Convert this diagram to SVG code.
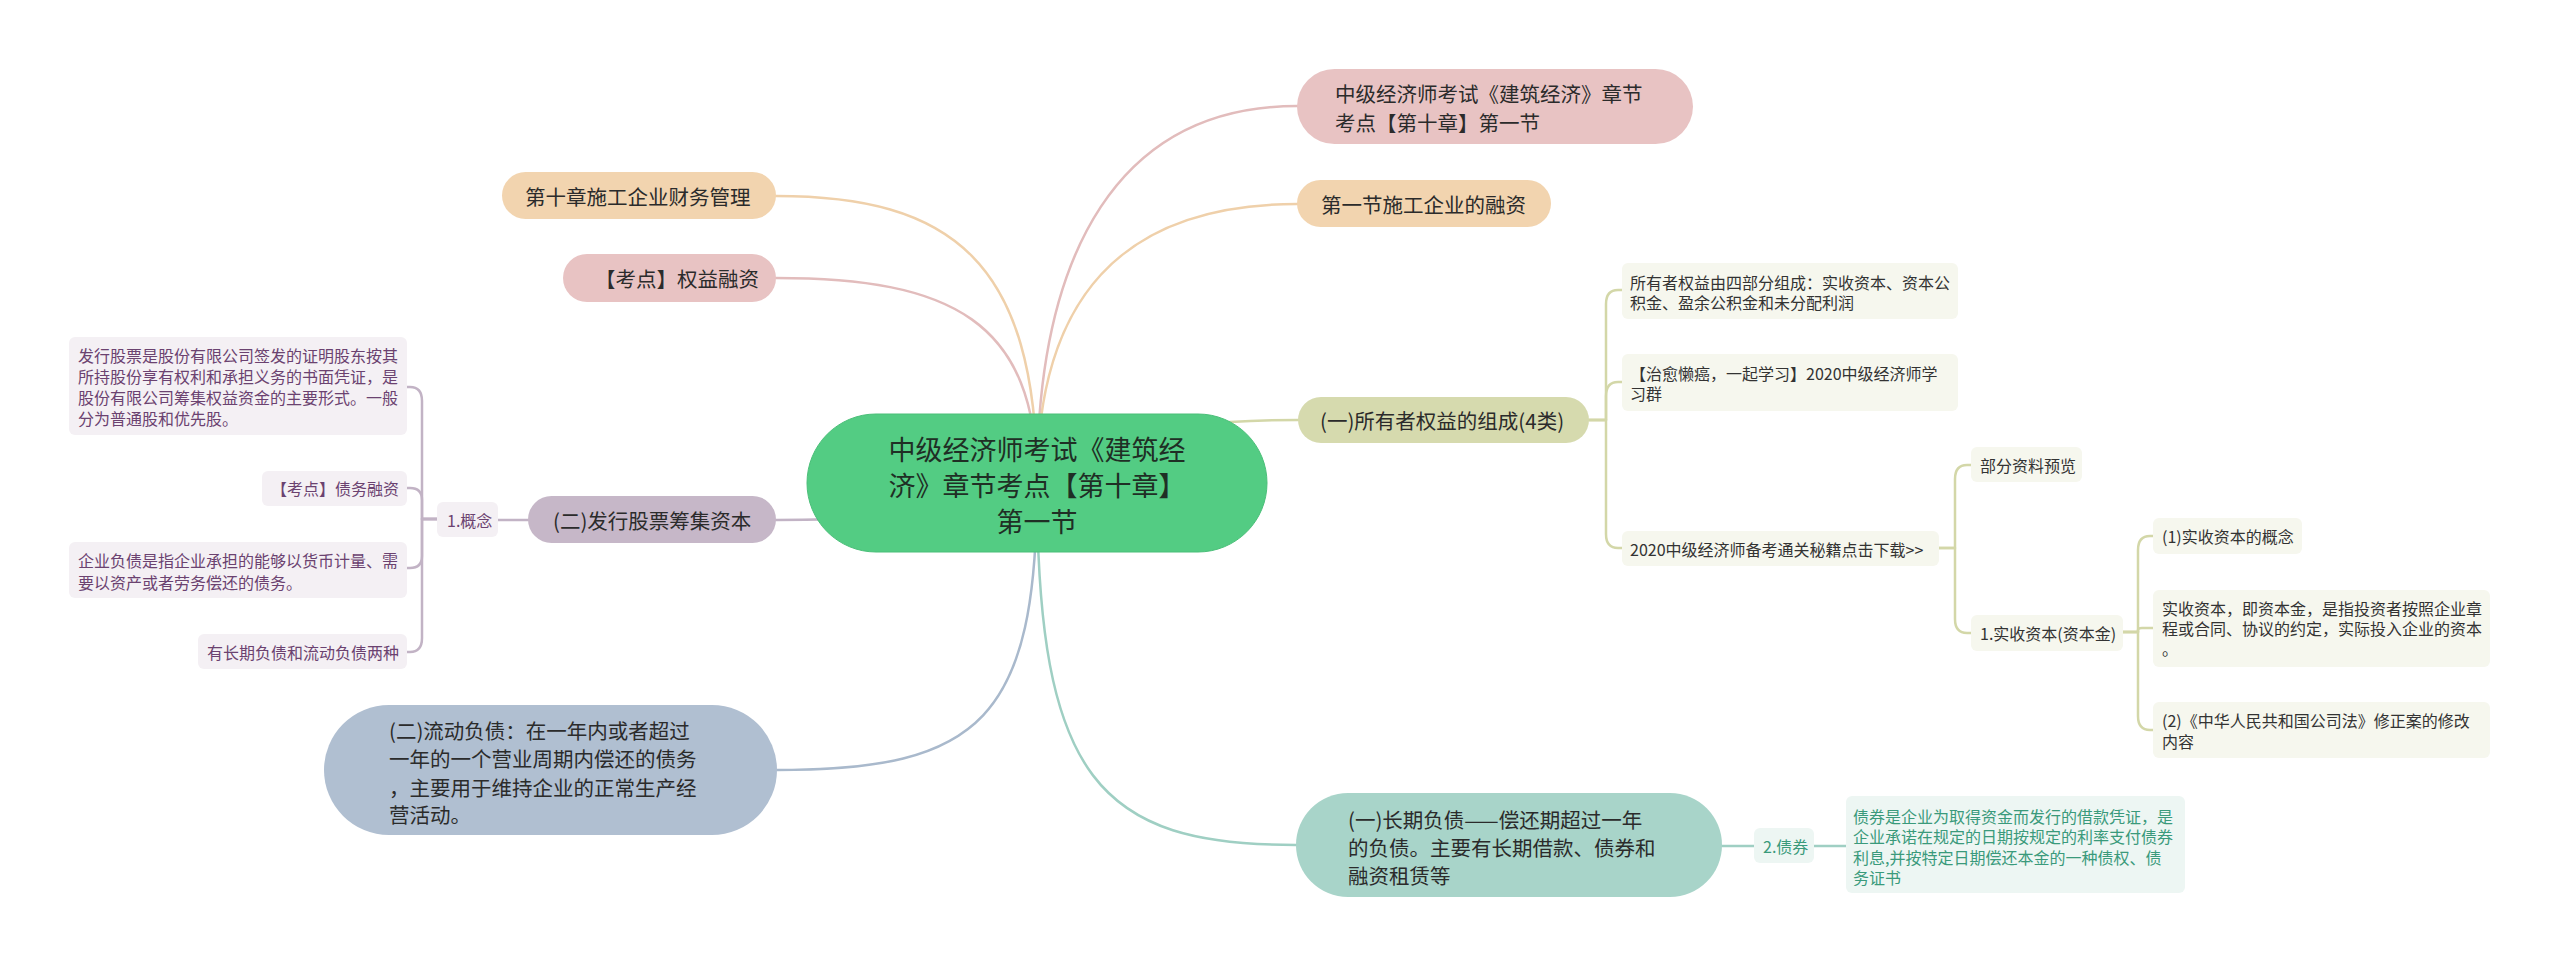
<svg xmlns="http://www.w3.org/2000/svg" width="2560" height="966" viewBox="0 0 2560 966">
<style>
text{font-family:"Noto Sans CJK SC","Noto Sans",sans-serif;dominant-baseline:central}
.root{font-size:27px;fill:#1f2f25;text-anchor:middle}
.main{font-size:20.5px;fill:#2b2b2b}
.sm{font-size:16px}
.pu{fill:#6b4270}
.ol{fill:#333333}
.te{fill:#3a9a7b}
.c{fill:none;stroke-width:2.5;stroke-linecap:round}
.b{fill:none;stroke-width:2.5;stroke-linecap:round;stroke-linejoin:round}
.pbox{fill:#f4f0f4}
.obox{fill:#f6f7ee}
.tbox{fill:#edf6f3}
</style>
<rect width="2560" height="966" fill="#ffffff"/>
<g id="connectors">
<path class="c" stroke="#e2bcbc" d="M1037 483 C1037 250 1120 106 1297 106"/>
<path class="c" stroke="#efd0aa" d="M1037 483 C1037 300 1120 204 1297 204"/>
<path class="c" stroke="#efd0aa" d="M1037 483 C1037 260 950 196 776 196"/>
<path class="c" stroke="#e2bcbc" d="M1037 483 C1037 320 950 278 776 278"/>
<path class="c" stroke="#d3d7a8" d="M1037 483 Q1100 420 1298 420"/>
<path class="c" stroke="#c2b3c5" d="M1037 483 Q980 520 776 520"/>
<path class="c" stroke="#a9b9cc" d="M1037 483 C1037 720 980 770 777 770"/>
<path class="c" stroke="#9fcfc3" d="M1037 483 C1037 780 1100 845 1296 845"/>
<path class="b" stroke="#c2b3c5" d="M528 520 H498"/>
<path class="b" stroke="#c2b3c5" d="M437 519 H422 V401 Q422 387 410 387 H407"/>
<path class="b" stroke="#c2b3c5" d="M437 519 H422 V500 Q422 488 410 488 H407"/>
<path class="b" stroke="#c2b3c5" d="M437 519 H422 V556 Q422 568 410 568 H407"/>
<path class="b" stroke="#c2b3c5" d="M437 519 H422 V638 Q422 652 410 652 H407"/>
<path class="b" stroke="#d3d7a8" d="M1589 420 H1606 V304 Q1606 290 1618 290 H1622"/>
<path class="b" stroke="#d3d7a8" d="M1589 420 H1606 V396 Q1606 382 1618 382 H1622"/>
<path class="b" stroke="#d3d7a8" d="M1589 420 H1606 V534 Q1606 548 1618 548 H1622"/>
<path class="b" stroke="#d3d7a8" d="M1939 548 H1955 V479 Q1955 465 1967 465 H1971"/>
<path class="b" stroke="#d3d7a8" d="M1939 548 H1955 V619 Q1955 633 1967 633 H1971"/>
<path class="b" stroke="#d3d7a8" d="M2123 632 H2138 V550 Q2138 536 2150 536 H2153"/>
<path class="b" stroke="#d3d7a8" d="M2123 632 H2138 V630 Q2138 628 2142 628 H2153"/>
<path class="b" stroke="#d3d7a8" d="M2123 632 H2138 V716 Q2138 730 2150 730 H2153"/>
<path class="b" stroke="#9fcfc3" d="M1722 846 H1754"/>
<path class="b" stroke="#9fcfc3" d="M1814 846 H1846"/>
</g>
<g id="root">
<rect x="807" y="414" width="460" height="138" rx="69" fill="#53cc83" stroke="#4bbf79" stroke-width="1"/>
<text class="root" x="1037" y="448">中级经济师考试《建筑经</text>
<text class="root" x="1037" y="484">济》章节考点【第十章】</text>
<text class="root" x="1037" y="520">第一节</text>
</g>
<g id="n-title">
<rect x="1297" y="69" width="396" height="75" rx="37.5" fill="#e8c3c3"/>
<text class="main" x="1335" y="93">中级经济师考试《建筑经济》章节</text>
<text class="main" x="1335" y="122">考点【第十章】第一节</text>
</g>
<g id="n-section1">
<rect x="1297" y="180" width="254" height="47" rx="23.5" fill="#f2d4af"/>
<text class="main" x="1321" y="204">第一节施工企业的融资</text>
</g>
<g id="n-chapter10">
<rect x="502" y="172" width="274" height="47" rx="23.5" fill="#f2d4af"/>
<text class="main" x="525" y="196">第十章施工企业财务管理</text>
</g>
<g id="n-equity">
<rect x="563" y="254" width="213" height="48" rx="24" fill="#e8c3c3"/>
<text class="main" x="595" y="278">【考点】权益融资</text>
</g>
<g id="n-stock">
<rect x="528" y="496" width="248" height="47" rx="23.5" fill="#c6b7c8"/>
<text class="main" x="553" y="520">(二)发行股票筹集资本</text>
</g>
<g id="n-concept">
<rect x="437" y="502" width="61" height="35" rx="6" class="pbox"/>
<text class="sm pu" x="447" y="520">1.概念</text>
</g>
<g id="n-stock-def">
<rect x="69" y="337" width="338" height="98" rx="6" class="pbox"/>
<text class="sm pu" x="78" y="355">发行股票是股份有限公司签发的证明股东按其</text>
<text class="sm pu" x="78" y="376">所持股份享有权利和承担义务的书面凭证，是</text>
<text class="sm pu" x="78" y="397">股份有限公司筹集权益资金的主要形式。一般</text>
<text class="sm pu" x="78" y="418">分为普通股和优先股。</text>
</g>
<g id="n-debt-financing">
<rect x="262" y="471" width="145" height="35" rx="6" class="pbox"/>
<text class="sm pu" x="271" y="488">【考点】债务融资</text>
</g>
<g id="n-liability-def">
<rect x="69" y="542" width="338" height="56" rx="6" class="pbox"/>
<text class="sm pu" x="78" y="560">企业负债是指企业承担的能够以货币计量、需</text>
<text class="sm pu" x="78" y="582">要以资产或者劳务偿还的债务。</text>
</g>
<g id="n-two-kinds">
<rect x="198" y="634" width="209" height="35" rx="6" class="pbox"/>
<text class="sm pu" x="207" y="652">有长期负债和流动负债两种</text>
</g>
<g id="n-current">
<rect x="324" y="705" width="453" height="130" rx="65" fill="#b0bfd1"/>
<text class="main" x="389" y="730">(二)流动负债：在一年内或者超过</text>
<text class="main" x="389" y="758">一年的一个营业周期内偿还的债务</text>
<text class="main" x="389" y="787">，主要用于维持企业的正常生产经</text>
<text class="main" x="389" y="814">营活动。</text>
</g>
<g id="n-owners">
<rect x="1298" y="397" width="291" height="46" rx="23" fill="#d6daae"/>
<text class="main" x="1320" y="420">(一)所有者权益的组成(4类)</text>
</g>
<g id="n-four-parts">
<rect x="1622" y="263" width="336" height="56" rx="6" class="obox"/>
<text class="sm ol" x="1630" y="282">所有者权益由四部分组成：实收资本、资本公</text>
<text class="sm ol" x="1630" y="302">积金、盈余公积金和未分配利润</text>
</g>
<g id="n-group">
<rect x="1622" y="354" width="336" height="57" rx="6" class="obox"/>
<text class="sm ol" x="1630" y="373">【治愈懒癌，一起学习】2020中级经济师学</text>
<text class="sm ol" x="1630" y="393">习群</text>
</g>
<g id="n-download">
<rect x="1622" y="531" width="317" height="35" rx="6" class="obox"/>
<text class="sm ol" x="1630" y="549">2020中级经济师备考通关秘籍点击下载&gt;&gt;</text>
</g>
<g id="n-preview">
<rect x="1971" y="447" width="111" height="35" rx="6" class="obox"/>
<text class="sm ol" x="1980" y="465">部分资料预览</text>
</g>
<g id="n-paidin">
<rect x="1971" y="615" width="152" height="36" rx="6" class="obox"/>
<text class="sm ol" x="1980" y="633">1.实收资本(资本金)</text>
</g>
<g id="n-paidin-concept">
<rect x="2153" y="518" width="149" height="36" rx="6" class="obox"/>
<text class="sm ol" x="2162" y="536">(1)实收资本的概念</text>
</g>
<g id="n-paidin-def">
<rect x="2153" y="590" width="337" height="77" rx="6" class="obox"/>
<text class="sm ol" x="2162" y="608">实收资本，即资本金，是指投资者按照企业章</text>
<text class="sm ol" x="2162" y="628">程或合同、协议的约定，实际投入企业的资本</text>
<text class="sm ol" x="2162" y="648">。</text>
</g>
<g id="n-company-law">
<rect x="2153" y="702" width="337" height="56" rx="6" class="obox"/>
<text class="sm ol" x="2162" y="720">(2)《中华人民共和国公司法》修正案的修改</text>
<text class="sm ol" x="2162" y="741">内容</text>
</g>
<g id="n-longterm">
<rect x="1296" y="793" width="426" height="104" rx="52" fill="#a8d4c9"/>
<text class="main" x="1348" y="819">(一)长期负债——偿还期超过一年</text>
<text class="main" x="1348" y="847">的负债。主要有长期借款、债券和</text>
<text class="main" x="1348" y="875">融资租赁等</text>
</g>
<g id="n-bond">
<rect x="1754" y="828" width="60" height="35" rx="6" class="tbox"/>
<text class="sm te" x="1763" y="846">2.债券</text>
</g>
<g id="n-bond-def">
<rect x="1846" y="796" width="339" height="97" rx="6" class="tbox"/>
<text class="sm te" x="1853" y="816">债券是企业为取得资金而发行的借款凭证，是</text>
<text class="sm te" x="1853" y="836">企业承诺在规定的日期按规定的利率支付债券</text>
<text class="sm te" x="1853" y="857">利息,并按特定日期偿还本金的一种债权、债</text>
<text class="sm te" x="1853" y="877">务证书</text>
</g>
</svg>
